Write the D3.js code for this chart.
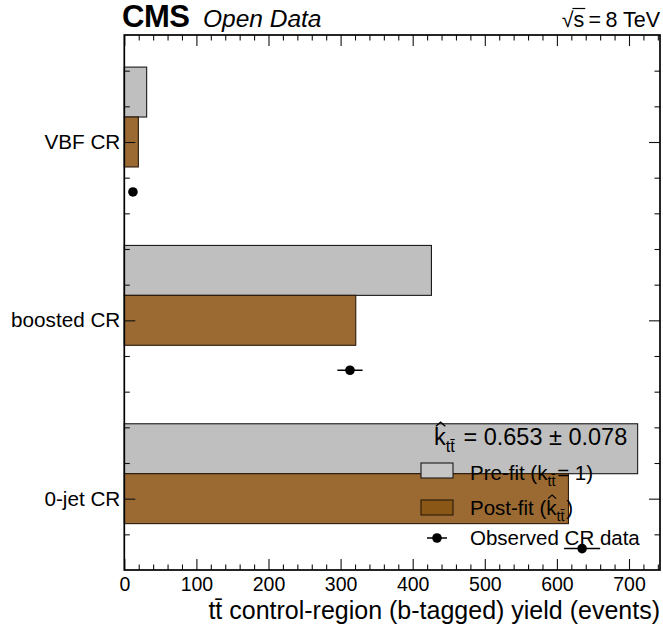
<!DOCTYPE html>
<html>
<head>
<meta charset="utf-8">
<script src="https://cdn.jsdelivr.net/npm/d3@7"></script>
<style>
  html, body { margin: 0; padding: 0; background: #ffffff; }
  svg { display: block; font-family: "Liberation Sans", Arial, Helvetica, sans-serif; }
</style>
</head>
<body>
<script>
// Control regions, bottom to top (y positions 0, 1, 2)
const categories = ["0-jet CR", "boosted CR", "VBF CR"];
// b-tagged ttbar yields per control region (events)
const preFit = [712, 426, 31];
const postFit = [616, 321, 19.5];
const observed = [635, 313, 12];
const observedErr = [25, 17.5, 3.5];
// fitted scale factor
const kHat = 0.653;
const kHatErr = 0.078;
// axis ticks
const xMajorTicks = [0, 100, 200, 300, 400, 500, 600, 700];
const xMinorTicks = d3.range(20, 741, 20).filter(v => v % 100 !== 0);

const W = 663, H = 628;
const plotLeft = 124.3, plotRight = 660, plotTop = 35, plotBottom = 570;

const svg = d3.select("body").append("svg")
  .attr("width", W).attr("height", H);

const x = d3.scaleLinear().domain([0, 743]).range([plotLeft, plotRight]);
const y = d3.scaleLinear().domain([-0.4, 2.6]).range([plotBottom, plotTop]);

const yMajor = [0, 1, 2];
const yMinor = d3.range(-1, 13).map(v => v / 5).filter(v => Math.abs(v - Math.round(v)) > 1e-6);

const preColor = "#bfbfbf";
const postColor = "#9b6a33";

// bars: pre-fit above the category centre, post-fit on it
const bars = svg.append("g");
categories.forEach((c, i) => {
  bars.append("rect")
    .attr("x", x(0)).attr("y", y(i + 0.42))
    .attr("width", x(preFit[i]) - x(0))
    .attr("height", y(i + 0.14) - y(i + 0.42))
    .attr("fill", preColor).attr("stroke", "#1a1a1a").attr("stroke-width", 1.1);
  bars.append("rect")
    .attr("x", x(0)).attr("y", y(i + 0.14))
    .attr("width", x(postFit[i]) - x(0))
    .attr("height", y(i - 0.14) - y(i + 0.14))
    .attr("fill", postColor).attr("stroke", "#2a1a0a").attr("stroke-width", 1.1);
});

// axes with inward ticks
function styleAxis(g) {
  g.select(".domain").remove();
  g.selectAll(".tick line").attr("stroke", "#111").attr("stroke-width", 1.1);
}

// bottom
svg.append("g").attr("transform", `translate(0,${plotBottom})`)
  .call(d3.axisBottom(x).tickValues(xMinorTicks).tickSize(-5.5).tickFormat(""))
  .call(styleAxis);
svg.append("g").attr("transform", `translate(0,${plotBottom})`)
  .call(d3.axisBottom(x).tickValues(xMajorTicks).tickSize(-11).tickPadding(7.5).tickFormat(d3.format("d")))
  .call(styleAxis)
  .call(g => g.selectAll("text").attr("font-size", 19.5).attr("fill", "#000")
    .attr("font-family", "Liberation Sans, Arial, sans-serif"));
// top
svg.append("g").attr("transform", `translate(0,${plotTop})`)
  .call(d3.axisTop(x).tickValues(xMinorTicks).tickSize(-5.5).tickFormat(""))
  .call(styleAxis);
svg.append("g").attr("transform", `translate(0,${plotTop})`)
  .call(d3.axisTop(x).tickValues(xMajorTicks).tickSize(-11).tickFormat(""))
  .call(styleAxis);
// left
svg.append("g").attr("transform", `translate(${plotLeft},0)`)
  .call(d3.axisLeft(y).tickValues(yMinor).tickSize(-5.5).tickFormat(""))
  .call(styleAxis);
svg.append("g").attr("transform", `translate(${plotLeft},0)`)
  .call(d3.axisLeft(y).tickValues(yMajor).tickSize(-11).tickPadding(4).tickFormat(d => categories[d]))
  .call(styleAxis)
  .call(g => g.selectAll("text").attr("font-size", 20.7).attr("fill", "#000")
    .attr("font-family", "Liberation Sans, Arial, sans-serif"));
// right
svg.append("g").attr("transform", `translate(${plotRight},0)`)
  .call(d3.axisRight(y).tickValues(yMinor).tickSize(-5.5).tickFormat(""))
  .call(styleAxis);
svg.append("g").attr("transform", `translate(${plotRight},0)`)
  .call(d3.axisRight(y).tickValues(yMajor).tickSize(-11).tickFormat(""))
  .call(styleAxis);

// frame
svg.append("rect")
  .attr("x", plotLeft).attr("y", plotTop)
  .attr("width", plotRight - plotLeft).attr("height", plotBottom - plotTop)
  .attr("fill", "none").attr("stroke", "#000").attr("stroke-width", 1.7);

// helper: k with optional hat and a "tt̄" subscript
function appendK(text, hat, size, baseY) {
  const kSpan = text.append("tspan").text("k");
  text.append("tspan").attr("font-size", size * 0.7).attr("dy", size * 0.3)
    .text("tt\u0304");
  text.append("tspan").attr("dy", -size * 0.3).text("\u200a");
  if (hat) {
    const kx = kSpan.node().getStartPositionOfChar(0).x;
    const cx = kx + 0.28 * size;
    const hw = 0.2 * size;
    svg.append("path")
      .attr("d", `M${cx - hw},${baseY - 0.8 * size} L${cx},${baseY - 0.97 * size} L${cx + hw},${baseY - 0.8 * size}`)
      .attr("fill", "none").attr("stroke", "#000").attr("stroke-width", size * 0.06);
  }
}

// fitted value
const kSize = 23.5;
const kt = svg.append("text").attr("x", 434).attr("y", 445)
  .attr("font-size", kSize).attr("fill", "#000");
appendK(kt, true, kSize, 445);
kt.append("tspan").text(` = ${kHat.toFixed(3)} \u00b1 ${kHatErr.toFixed(3)}`);

// legend
const legend = svg.append("g");
legend.append("rect").attr("x", 421).attr("y", 463).attr("width", 32).attr("height", 15)
  .attr("fill", "#c6c6c6").attr("stroke", "#1a1a1a").attr("stroke-width", 1.1);
legend.append("rect").attr("x", 421).attr("y", 500).attr("width", 32).attr("height", 15)
  .attr("fill", "#8b5716").attr("stroke", "#2a1a0a").attr("stroke-width", 1.1);
legend.append("line").attr("x1", 427).attr("x2", 447).attr("y1", 538).attr("y2", 538)
  .attr("stroke", "#000").attr("stroke-width", 1.5);
legend.append("circle").attr("cx", 437).attr("cy", 538).attr("r", 4.8).attr("fill", "#000");

const legSize = 20.5;
const lt1 = legend.append("text").attr("x", 470).attr("y", 480).attr("font-size", legSize).attr("fill", "#000");
lt1.append("tspan").text("Pre-fit (");
appendK(lt1, false, legSize, 480);
lt1.append("tspan").text("= 1)");

const lt2 = legend.append("text").attr("x", 470).attr("y", 515).attr("font-size", legSize).attr("fill", "#000");
lt2.append("tspan").text("Post-fit (");
appendK(lt2, true, legSize, 515);
lt2.append("tspan").text(")");

legend.append("text").attr("x", 470).attr("y", 545).attr("font-size", legSize).attr("fill", "#000")
  .text("Observed CR data");

// observed data with error bars
const pts = svg.append("g");
categories.forEach((c, i) => {
  const yy = y(i - 0.28);
  pts.append("line")
    .attr("x1", x(observed[i] - observedErr[i])).attr("x2", x(observed[i] + observedErr[i]))
    .attr("y1", yy).attr("y2", yy)
    .attr("stroke", "#000").attr("stroke-width", 1.5);
  pts.append("circle").attr("cx", x(observed[i])).attr("cy", yy).attr("r", 4.8).attr("fill", "#000");
});

// x axis title
svg.append("text").attr("x", plotRight).attr("y", 619).attr("text-anchor", "end")
  .attr("font-size", 25).attr("fill", "#000")
  .text("tt\u0304 control-region (b-tagged) yield (events)");

// header
svg.append("text").attr("x", 122).attr("y", 27).attr("font-size", 31)
  .attr("font-weight", "bold").attr("fill", "#000").attr("letter-spacing", -0.5).text("CMS");
svg.append("text").attr("x", 203).attr("y", 27).attr("font-size", 24.5)
  .attr("font-style", "italic").attr("fill", "#000").text("Open Data");

const energy = svg.append("text").attr("x", plotRight).attr("y", 27).attr("text-anchor", "end")
  .attr("font-size", 21.5).attr("fill", "#000");
energy.append("tspan").text("\u221a");
energy.append("tspan").text("s");
energy.append("tspan").text("\u2009=\u20098 TeV");
// overbar of the square root
(function () {
  const n = energy.node();
  const end = n.getEndPositionOfChar(1);
  const rootEnd = n.getEndPositionOfChar(0);
  svg.append("line")
    .attr("x1", rootEnd.x - 1).attr("x2", end.x + 1)
    .attr("y1", 27 - 18.5).attr("y2", 27 - 18.5)
    .attr("stroke", "#000").attr("stroke-width", 1.2);
})();
</script>
</body>
</html>
